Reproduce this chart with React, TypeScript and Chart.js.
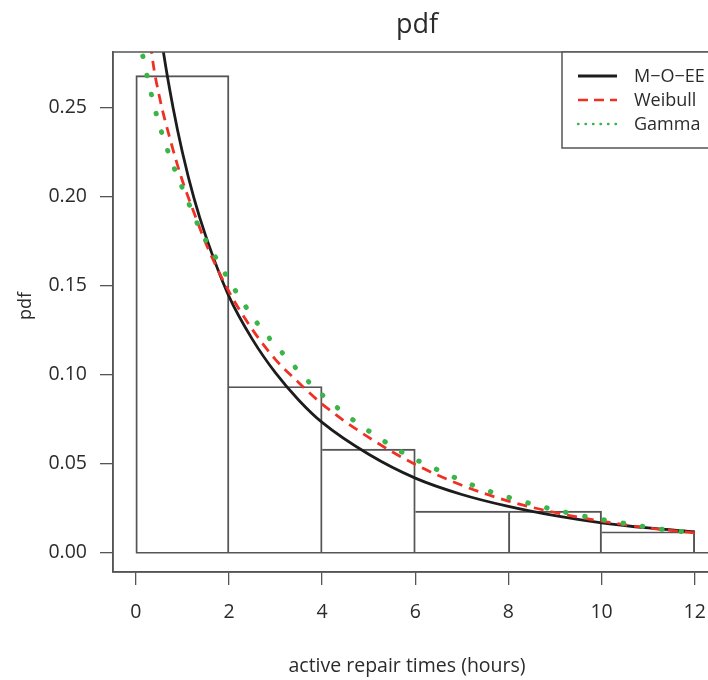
import { useEffect, useRef } from "react";
import { Chart, registerables } from "chart.js";

Chart.register(...registerables);

// ---------- data ----------
const binCenters = [1, 3, 5, 7, 9, 11];
const binDensity = [0.268, 0.0934, 0.0582, 0.0234, 0.0234, 0.0118];

const moeeX = [0.45, 0.6, 0.8, 1.0, 1.25, 1.5, 2.0, 2.5, 3.0, 3.5, 4.0, 5.0, 6.0, 7.0, 8.0, 9.0, 10.0, 11.0, 12.0];
const moeeY = [0.308, 0.28, 0.25, 0.225, 0.199, 0.178, 0.144, 0.12, 0.101, 0.0857, 0.0732, 0.0553, 0.0419, 0.0327, 0.026, 0.0208, 0.0168, 0.0139, 0.0118];

const weibullX = [0.25, 0.35, 0.5, 0.75, 1.0, 1.25, 1.5, 2.0, 2.5, 3.0, 3.5, 4.0, 5.0, 6.0, 7.0, 8.0, 9.0, 10.0, 11.0, 12.0];
const weibullY = [0.305, 0.279, 0.257, 0.231, 0.209, 0.191, 0.174, 0.1467, 0.1255, 0.1085, 0.0955, 0.0835, 0.0648, 0.0496, 0.0379, 0.029, 0.0226, 0.0177, 0.0139, 0.0112];

const gammaX = [0.15, 0.27, 0.47, 0.728, 1.035, 1.364, 1.77, 2.2, 2.667, 3.21, 3.777, 4.4, 5.07, 5.787, 6.53, 7.305, 8.085, 8.9, 9.725, 10.54, 11.37, 12.0];
const gammaY = [0.279, 0.2646, 0.2435, 0.2227, 0.2027, 0.1825, 0.1634, 0.1447, 0.1269, 0.1104, 0.0943, 0.0799, 0.0672, 0.0554, 0.046, 0.0372, 0.0305, 0.0247, 0.02, 0.0163, 0.0129, 0.0112];

const xTicks = [0, 2, 4, 6, 8, 10, 12];
const yTicks = [0, 0.05, 0.1, 0.15, 0.2, 0.25];

const TITLE = "pdf";
const X_TITLE = "active repair times (hours)";
const Y_TITLE = "pdf";
const LEGEND_LABELS = ["M\u2212O\u2212EE", "Weibull", "Gamma"];

// ---------- style ----------
const FONT = "'Open Sans', 'DejaVu Sans', sans-serif";
const TEXT = "#2b2b2b";
const AXIS = "#555555";
const BLACK = "#1c1c1c";
const RED = "#ee3124";
const GREEN = "#3bb54a";
const BAR_LW = 1.3;

const toPts = (xs: number[], ys: number[]) => xs.map((x, i) => ({ x, y: ys[i] }));

const overlay = {
  id: "overlay",
  afterDraw(chart: any) {
    const { ctx, chartArea: a } = chart;
    ctx.save();
    ctx.strokeStyle = AXIS;
    ctx.lineWidth = 1.5;
    ctx.strokeRect(a.left, a.top, a.right - a.left, a.bottom - a.top);

    ctx.fillStyle = TEXT;
    ctx.textAlign = "center";
    ctx.textBaseline = "alphabetic";
    ctx.font = `27px ${FONT}`;
    ctx.fillText(TITLE, 417, 33);
    ctx.font = `19.5px ${FONT}`;
    ctx.fillText(X_TITLE, 407, 672);

    ctx.save();
    ctx.translate(26, 306);
    ctx.rotate(-Math.PI / 2);
    ctx.textBaseline = "middle";
    ctx.font = `18px ${FONT}`;
    ctx.fillText(Y_TITLE, 0, 0);
    ctx.restore();

    // legend
    const lx = 562, ly = a.top, lw = a.right - 562, lh = 96;
    ctx.fillStyle = "#ffffff";
    ctx.fillRect(lx, ly, lw, lh);
    ctx.strokeStyle = AXIS;
    ctx.lineWidth = 1.5;
    ctx.strokeRect(lx, ly, lw, lh);
    const rows = [76, 100, 124];
    const styles = [
      { color: BLACK, width: 2.8, dash: [] as number[], cap: "butt" },
      { color: RED, width: 2.6, dash: [10, 6], cap: "butt" },
      { color: GREEN, width: 2.4, dash: [0.5, 7], cap: "round" },
    ];
    styles.forEach((s, i) => {
      ctx.beginPath();
      ctx.strokeStyle = s.color;
      ctx.lineWidth = s.width;
      ctx.setLineDash(s.dash);
      ctx.lineCap = s.cap;
      ctx.moveTo(578, rows[i]);
      ctx.lineTo(617, rows[i]);
      ctx.stroke();
    });
    ctx.setLineDash([]);
    ctx.fillStyle = TEXT;
    ctx.textAlign = "left";
    ctx.textBaseline = "middle";
    ctx.font = `18px ${FONT}`;
    LEGEND_LABELS.forEach((t, i) => ctx.fillText(t, 634, rows[i] + 1));
    ctx.restore();
  },
};

export default function App() {
  const ref = useRef<HTMLCanvasElement>(null);

  useEffect(() => {
    if (!ref.current) return;
    const n = binDensity.length;
    const chart = new Chart(ref.current, {
      type: "line",
      data: {
        datasets: [
          {
            type: "line",
            label: "gamma",
            data: toPts(gammaX, gammaY),
            borderColor: GREEN,
            borderWidth: 5,
            borderDash: [0.5, 19],
            borderCapStyle: "round",
            pointRadius: 0,
            cubicInterpolationMode: "monotone",
            fill: false,
            order: 1,
          } as any,
          {
            type: "line",
            label: "weibull",
            data: toPts(weibullX, weibullY),
            borderColor: RED,
            borderWidth: 2.8,
            borderDash: [10, 7],
            pointRadius: 0,
            cubicInterpolationMode: "monotone",
            fill: false,
            order: 2,
          } as any,
          {
            type: "line",
            label: "moee",
            data: toPts(moeeX, moeeY),
            borderColor: BLACK,
            borderWidth: 2.8,
            pointRadius: 0,
            cubicInterpolationMode: "monotone",
            fill: false,
            order: 3,
          } as any,
          {
            type: "bar",
            label: "hist",
            data: toPts(binCenters, binDensity),
            backgroundColor: "rgba(0,0,0,0)",
            borderColor: AXIS,
            borderWidth: (c: any) => {
              const i = c.dataIndex;
              const h = binDensity;
              return {
                top: BAR_LW,
                left: i === 0 || h[i] >= h[i - 1] ? BAR_LW : 0,
                right: i === n - 1 || h[i] > h[i + 1] ? BAR_LW : 0,
                bottom: 0,
              };
            },
            borderSkipped: false,
            barPercentage: 1,
            categoryPercentage: 1,
            grouped: false,
            order: 4,
          } as any,
          {
            type: "line",
            label: "base",
            data: [
              { x: 0, y: 0 },
              { x: 13, y: 0 },
            ],
            borderColor: AXIS,
            borderWidth: 1.5,
            pointRadius: 0,
            fill: false,
            order: 5,
          } as any,
        ],
      },
      options: {
        animation: false,
        responsive: false,
        devicePixelRatio: 1,
        layout: { padding: { top: 52, right: 22, left: 0, bottom: 0 } },
        plugins: {
          legend: { display: false },
          title: { display: false },
          tooltip: { enabled: false },
        },
        scales: {
          x: {
            type: "linear",
            offset: false,
            min: -0.49,
            max: 12.5,
            afterBuildTicks: (s: any) => {
              s.ticks = xTicks.map((v) => ({ value: v }));
            },
            afterFit: (s: any) => {
              s.height = 108;
            },
            grid: { offset: false, drawOnChartArea: false, drawTicks: true, tickLength: 13, color: AXIS, lineWidth: 1.3 },
            border: { display: true, color: AXIS, width: 1.5 },
            ticks: {
              font: { family: FONT, size: 19.5 },
              color: TEXT,
              padding: 16,
              maxRotation: 0,
              autoSkip: false,
              callback: (v: any) => String(v),
            },
          },
          y: {
            type: "linear",
            offset: false,
            min: -0.01083,
            max: 0.2813,
            afterBuildTicks: (s: any) => {
              s.ticks = yTicks.map((v) => ({ value: v }));
            },
            afterFit: (s: any) => {
              s.width = 113;
            },
            grid: { offset: false, drawOnChartArea: false, drawTicks: true, tickLength: 13, color: AXIS, lineWidth: 1.3 },
            border: { display: true, color: AXIS, width: 1.5 },
            ticks: {
              font: { family: FONT, size: 19.5 },
              color: TEXT,
              padding: 13,
              autoSkip: false,
              callback: (v: any) => Number(v).toFixed(2),
            },
          },
        },
      },
      plugins: [overlay],
    } as any);
    return () => chart.destroy();
  }, []);

  return (
    <div style={{ position: "absolute", left: 0, top: 0, width: 708, height: 680, overflow: "hidden", background: "#fff" }}>
      <canvas ref={ref} width={740} height={680} style={{ display: "block", width: 740, height: 680 }} />
    </div>
  );
}
